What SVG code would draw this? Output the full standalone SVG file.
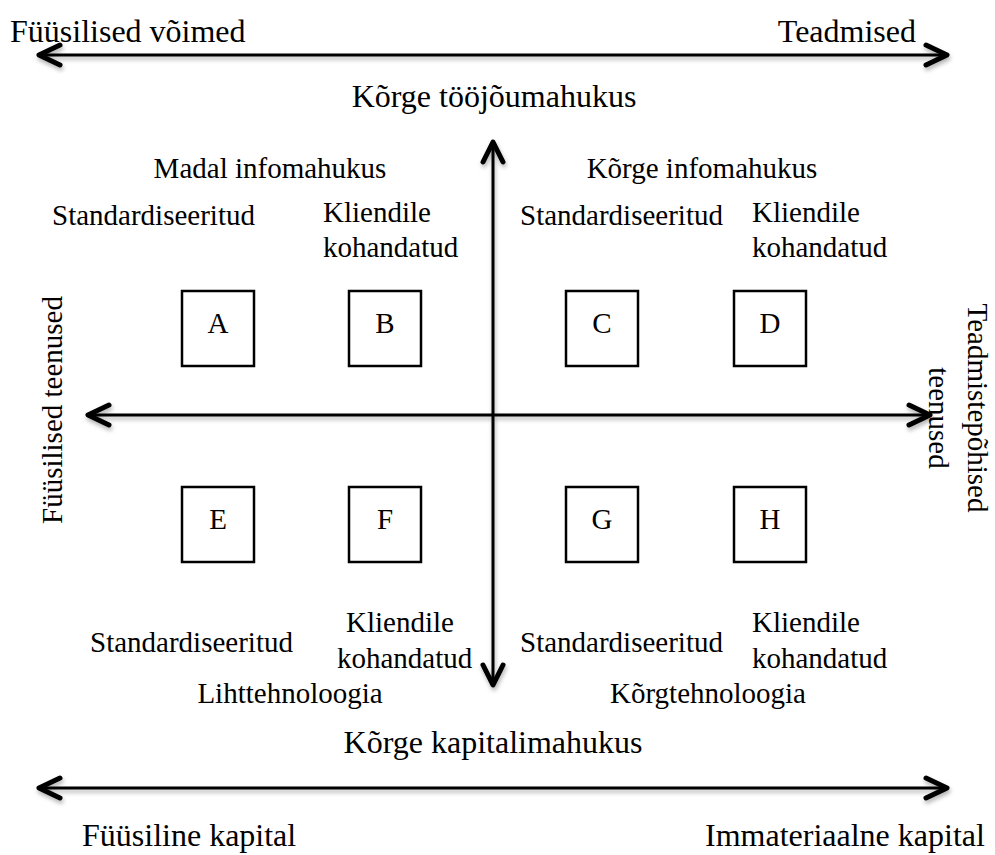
<svg xmlns="http://www.w3.org/2000/svg" width="995" height="855" viewBox="0 0 995 855">
<style>
text{font-family:"Liberation Serif","Times New Roman",serif;font-size:29px;fill:#000}
.m{text-anchor:middle}
.big{font-size:32px}
.ax{stroke:#000;stroke-width:3;fill:none}
.hd{stroke:#000;stroke-width:5;fill:none;stroke-linecap:round;stroke-linejoin:round}
.box{fill:#fff;stroke:#000;stroke-width:2.5}
</style>
<defs>
<filter id="sh" x="-5%" y="-50%" width="110%" height="200%">
<feDropShadow dx="1" dy="3" stdDeviation="2" flood-color="#000" flood-opacity="0.3"/>
</filter>
</defs>
<g id="labels">
<text class="big" x="10" y="42">Füüsilised võimed</text>
<text class="big" x="916" y="42" text-anchor="end">Teadmised</text>
<text class="m big" x="494" y="107">Kõrge tööjõumahukus</text>
<text class="m" x="270" y="178">Madal infomahukus</text>
<text class="m" x="702" y="178">Kõrge infomahukus</text>
<text x="52" y="225">Standardiseeritud</text>
<text x="323" y="222">Kliendile</text>
<text x="323" y="257">kohandatud</text>
<text x="520" y="225">Standardiseeritud</text>
<text x="752" y="222">Kliendile</text>
<text x="752" y="257">kohandatud</text>
<text x="90" y="652">Standardiseeritud</text>
<text x="346" y="632">Kliendile</text>
<text x="337" y="668">kohandatud</text>
<text x="520" y="652">Standardiseeritud</text>
<text x="752" y="632">Kliendile</text>
<text x="752" y="668">kohandatud</text>
<text class="m" x="290" y="703">Lihttehnoloogia</text>
<text class="m" x="708" y="703">Kõrgtehnoloogia</text>
<text class="m big" x="493" y="753">Kõrge kapitalimahukus</text>
<text class="big" x="82" y="846">Füüsiline kapital</text>
<text class="big" x="705" y="846">Immateriaalne kapital</text>
<text class="m" transform="translate(62,410) rotate(-90)">Füüsilised teenused</text>
<text class="m" transform="translate(968,408) rotate(90)">Teadmistepõhised</text>
<text class="m" transform="translate(929,418) rotate(90)">teenused</text>
</g>
<g id="connectors" filter="url(#sh)">
<path class="ax" d="M40 55H946"/>
<path class="hd" d="M60 45L39 55L60 65M926 45L947 55L926 65"/>
<path class="ax" d="M493 144V683"/>
<path class="hd" d="M483 162L493 142L503 162M483 665L493 685L503 665"/>
<path class="ax" d="M90 415H928"/>
<path class="hd" d="M109 405L88 415L109 425M909 405L930 415L909 425"/>
<path class="ax" d="M40 788H946"/>
<path class="hd" d="M60 778L39 788L60 798M926 778L947 788L926 798"/>
</g>
<g id="A"><rect class="box" x="182" y="291" width="72" height="75"/><text class="m" x="218" y="333">A</text></g>
<g id="B"><rect class="box" x="349" y="291" width="72" height="75"/><text class="m" x="385" y="333">B</text></g>
<g id="C"><rect class="box" x="566" y="291" width="72" height="75"/><text class="m" x="602" y="333">C</text></g>
<g id="D"><rect class="box" x="734" y="291" width="72" height="75"/><text class="m" x="770" y="333">D</text></g>
<g id="E"><rect class="box" x="182" y="487" width="72" height="75"/><text class="m" x="218" y="529">E</text></g>
<g id="F"><rect class="box" x="349" y="487" width="72" height="75"/><text class="m" x="385" y="529">F</text></g>
<g id="G"><rect class="box" x="566" y="487" width="72" height="75"/><text class="m" x="602" y="529">G</text></g>
<g id="H"><rect class="box" x="734" y="487" width="72" height="75"/><text class="m" x="770" y="529">H</text></g>
</svg>
